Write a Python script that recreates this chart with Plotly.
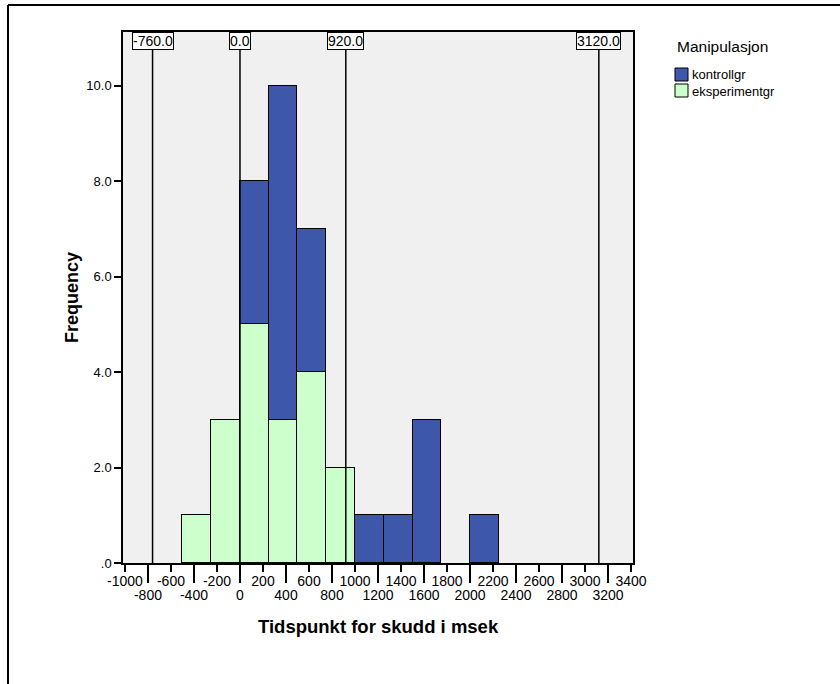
import plotly.graph_objects as go

# ---- data ----
bin_start = [-500, -250, 0, 250, 500, 750, 1000, 1250, 1500, 1750, 2000]
bin_width = 250
eksperimentgr = [1, 3, 5, 3, 4, 2, 0, 0, 0, 0, 0]
kontrollgr = [0, 0, 3, 7, 3, 0, 1, 1, 3, 0, 1]
ref_lines = [-760, 0, 920, 3120]
x_ticks_row1 = list(range(-1000, 3401, 400))
x_ticks_row2 = list(range(-800, 3201, 400))
y_ticks = [0, 2, 4, 6, 8, 10]
y_ticklabels = [".0", "2.0", "4.0", "6.0", "8.0", "10.0"]
legend_title = "Manipulasjon"
legend_names = ["kontrollgr", "eksperimentgr"]

W, H = 840, 684
L, R, T, B = 123, 633, 32, 563  # plot area in px


def px(xp):
    return (xp - L) / (R - L)


def py(yp):
    return (B - yp) / (B - T)


FONT = "Liberation Sans, Arial, sans-serif"
BLUE = "#3D58AA"
GREEN = "#CCFFCC"
colors = {"kontrollgr": BLUE, "eksperimentgr": GREEN}

fig = go.Figure()
fig.add_trace(go.Bar(
    x=bin_start, y=[v if v else None for v in eksperimentgr], width=bin_width, offset=0,
    name="eksperimentgr", marker=dict(color=GREEN, line=dict(color="black", width=1)),
))
fig.add_trace(go.Bar(
    x=bin_start, y=[v if v else None for v in kontrollgr], width=bin_width, offset=0,
    name="kontrollgr", marker=dict(color=BLUE, line=dict(color="black", width=1)),
))
# invisible trace to carry the second (long-tick) x axis
fig.add_trace(go.Scatter(x=[0], y=[0], xaxis="x2", mode="markers",
                         marker=dict(opacity=0), showlegend=False, hoverinfo="skip"))

xr = [-1017, 3417]
yr = [0, 11.13]

shapes = []
annotations = []
for v in ref_lines:
    shapes.append(dict(type="line", xref="x", yref="paper", x0=v, x1=v,
                       y0=0, y1=py(49), line=dict(color="black", width=1.5)))
    annotations.append(dict(x=v, xref="x", y=1, yref="paper", yanchor="top", xanchor="center",
                            text=f"{v:.1f}", showarrow=False,
                            font=dict(family=FONT, size=14, color="black"),
                            bgcolor="white", bordercolor="black", borderwidth=1, borderpad=0))

# outer frame (top and left edges)
shapes.append(dict(type="line", xref="paper", yref="paper", x0=px(8), x1=px(845),
                   y0=py(5), y1=py(5), line=dict(color="black", width=2)))
shapes.append(dict(type="line", xref="paper", yref="paper", x0=px(8), x1=px(8),
                   y0=py(5), y1=py(690), line=dict(color="black", width=2)))

# legend drawn by hand
annotations.append(dict(x=px(675), y=py(47), xref="paper", yref="paper",
                        xanchor="left", yanchor="middle",
                        text=legend_title, showarrow=False,
                        font=dict(family=FONT, size=15.5, color="black")))
for i, name in enumerate(legend_names):
    y0 = 68 + i * 16
    shapes.append(dict(type="rect", xref="paper", yref="paper",
                       x0=px(675), x1=px(688), y0=py(y0), y1=py(y0 + 13),
                       fillcolor=colors[name], line=dict(color="black", width=1)))
    annotations.append(dict(x=px(690), y=py(y0 + 7), xref="paper", yref="paper",
                            xanchor="left", yanchor="middle", text=name, showarrow=False,
                            font=dict(family=FONT, size=13, color="black")))

annotations.append(dict(x=px(378), y=py(626), xref="paper", yref="paper",
                        xanchor="center", yanchor="middle",
                        text="<b>Tidspunkt for skudd i msek</b>", showarrow=False,
                        font=dict(family=FONT, size=18.5, color="black")))
annotations.append(dict(x=px(72), y=py(298), xref="paper", yref="paper",
                        xanchor="center", yanchor="middle",
                        text="<b>Frequency</b>", showarrow=False, textangle=-90,
                        font=dict(family=FONT, size=18, color="black")))

fig.update_layout(
    width=W, height=H,
    margin=dict(l=L, r=W - R, t=T, b=H - B, pad=0),
    paper_bgcolor="white", plot_bgcolor="#F0F0F0",
    barmode="stack", bargap=0,
    font=dict(family=FONT, size=12, color="black"),
    xaxis=dict(range=xr, tickvals=x_ticks_row1, ticktext=[str(v) for v in x_ticks_row1],
               ticks="outside", ticklen=7, tickcolor="black", tickwidth=1.5,
               ticklabelstandoff=-3,
               showline=True, linecolor="black", linewidth=1.5, mirror=True,
               showgrid=False, zeroline=False, tickfont=dict(size=14)),
    xaxis2=dict(range=xr, overlaying="x", anchor="y", side="bottom",
                tickvals=x_ticks_row2, ticktext=[str(v) for v in x_ticks_row2],
                ticks="outside", ticklen=19, tickcolor="black", tickwidth=1.5,
                showline=False, showgrid=False, zeroline=False, tickfont=dict(size=14)),
    yaxis=dict(range=yr, tickvals=y_ticks, ticktext=y_ticklabels,
               ticks="outside", ticklen=7, tickcolor="black", tickwidth=1.5,
               showline=True, linecolor="black", linewidth=1.5, mirror=True,
               showgrid=False, zeroline=False, tickfont=dict(size=13)),
    shapes=shapes, annotations=annotations,
    showlegend=False,
)

fig.write_html("out.html", config={"displayModeBar": False},
               post_script="document.body.style.margin='0';document.body.style.overflow='hidden';")
